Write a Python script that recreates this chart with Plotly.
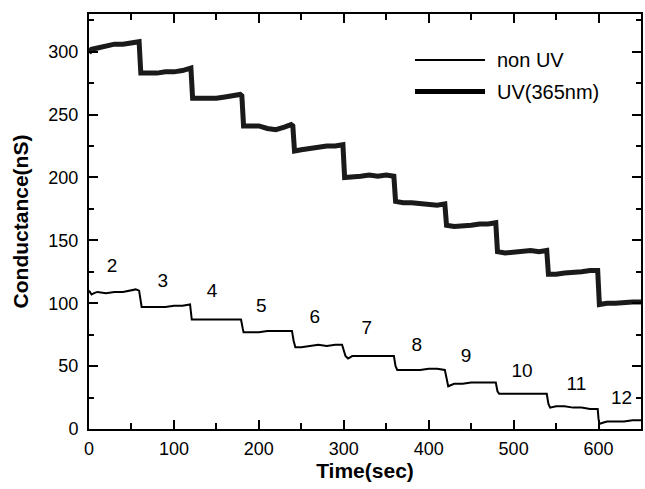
import plotly.graph_objects as go

# UV (365nm) series: time (sec), conductance (nS)
uv_time = [0, 3, 10, 20, 30, 40, 50, 57, 59,
           61, 70, 80, 90, 100, 110, 118, 120,
           122, 130, 140, 150, 160, 170, 178, 180,
           182, 190, 200, 210, 220, 230, 238, 240,
           242, 250, 260, 270, 280, 290, 299,
           301, 310, 320, 330, 340, 350, 359,
           361, 370, 380, 390, 400, 410, 419,
           421, 430, 440, 450, 460, 470, 479,
           481, 490, 500, 510, 520, 530, 539,
           541, 550, 560, 570, 580, 590, 599,
           601, 610, 620, 630, 640, 650]
uv_val = [299, 302, 303, 305, 306, 306, 307, 308, 308,
          283, 283, 283, 284, 284, 285, 286, 287,
          263, 263, 263, 263, 264, 265, 266, 265,
          241, 241, 241, 239, 238, 240, 242, 241,
          221, 222, 223, 224, 225, 225, 226,
          200, 200, 201, 202, 201, 202, 201,
          181, 180, 180, 179, 179, 178, 179,
          162, 161, 162, 162, 163, 163, 164,
          141, 140, 141, 141, 142, 141, 142,
          123, 123, 124, 125, 125, 126, 126,
          99, 100, 100, 101, 101, 101]

# non UV series
non_time = [0, 3, 6, 10, 20, 30, 40, 50, 55, 59,
            61, 62, 70, 80, 90, 100, 110, 119,
            121, 130, 150, 170, 179,
            181, 182, 190, 200, 210, 220, 230, 239,
            241, 243, 250, 260, 270, 280, 290, 298,
            300, 302, 305, 310, 330, 350, 359,
            361, 363, 370, 380, 390, 400, 410, 419,
            421, 423, 430, 440, 450, 460, 470, 479,
            481, 483, 500, 520, 539,
            541, 543, 550, 560, 570, 580, 590, 599,
            600, 601, 605, 610, 620, 630, 640, 650]
non_val = [110, 107, 108, 109, 108, 109, 109, 110, 111, 110,
           99, 97, 97, 97, 97, 98, 98, 99,
           87, 87, 87, 87, 87,
           80, 77, 77, 77, 78, 78, 78, 78,
           70, 65, 65, 66, 67, 66, 67, 67,
           62, 58, 56, 58, 58, 58, 58,
           50, 47, 47, 47, 47, 48, 48, 47,
           39, 34, 36, 36, 37, 37, 37, 37,
           30, 28, 28, 28, 28,
           20, 17, 18, 18, 17, 17, 16, 16,
           8, 4, 5, 6, 6, 6, 7, 7]

# step number labels
step_labels = ["2", "3", "4", "5", "6", "7", "8", "9", "10", "11", "12"]
label_time = [27, 87, 145, 203, 266, 327, 386, 444, 510, 574, 627]
label_val = [129, 117, 109, 97, 88, 79, 66, 57, 45, 35, 24]

legend_names = ["non UV", "UV(365nm)"]

x_range = [0, 650]
y_range = [0, 330]
x_ticks = [0, 100, 200, 300, 400, 500, 600]
y_ticks = [0, 50, 100, 150, 200, 250, 300]

FONT = "Liberation Sans, Arial, sans-serif"

fig = go.Figure()
fig.add_trace(go.Scatter(x=non_time, y=non_val, mode="lines",
                         line=dict(color="black", width=2), name=legend_names[0],
                         showlegend=False))
fig.add_trace(go.Scatter(x=uv_time, y=uv_val, mode="lines",
                         line=dict(color="#1a1a1a", width=5), name=legend_names[1],
                         showlegend=False))
fig.add_trace(go.Scatter(x=label_time, y=label_val, mode="text", text=step_labels,
                         textposition="middle center",
                         textfont=dict(family=FONT, size=19, color="black"),
                         showlegend=False, hoverinfo="skip"))

# manual legend
leg_y = [0.889, 0.813]
leg_w = [2, 5]
for name, yy, w in zip(legend_names, leg_y, leg_w):
    fig.add_shape(type="line", xref="paper", yref="paper",
                  x0=0.5906, x1=0.7174, y0=yy, y1=yy,
                  line=dict(color="black", width=w))
    fig.add_annotation(xref="paper", yref="paper", x=0.7355, y=yy, text=name,
                       showarrow=False, xanchor="left", yanchor="middle",
                       font=dict(family=FONT, size=20, color="black"))

axis_common = dict(showline=True, linecolor="black", linewidth=2, mirror="ticks",
                   ticks="inside", ticklen=9, tickwidth=2, tickcolor="black",
                   showgrid=False, zeroline=False, automargin=False,
                   tickfont=dict(family=FONT, size=18, color="black"))

fig.update_xaxes(range=x_range, tickvals=x_ticks, ticklabelstandoff=2,
                 title=dict(text="<b>Time(sec)</b>", font=dict(family=FONT, size=21, color="black"),
                            standoff=4),
                 minor=dict(dtick=50, ticks="inside", ticklen=6, tickwidth=2, tickcolor="black"),
                 **axis_common)
fig.update_yaxes(range=y_range, tickvals=y_ticks, ticklabelstandoff=5,
                 title=dict(text="<b>Conductance(nS)</b>", font=dict(family=FONT, size=21, color="black"),
                            standoff=14),
                 minor=dict(dtick=25, ticks="inside", ticklen=5, tickwidth=2, tickcolor="black"),
                 **axis_common)

fig.update_layout(width=645, height=489,
                  margin=dict(l=89, r=4, t=14, b=60),
                  paper_bgcolor="white", plot_bgcolor="white",
                  showlegend=False)

fig.write_html("out.html", config={"displayModeBar": False},
               post_script="document.body.style.margin='0';document.body.style.overflow='hidden';")
